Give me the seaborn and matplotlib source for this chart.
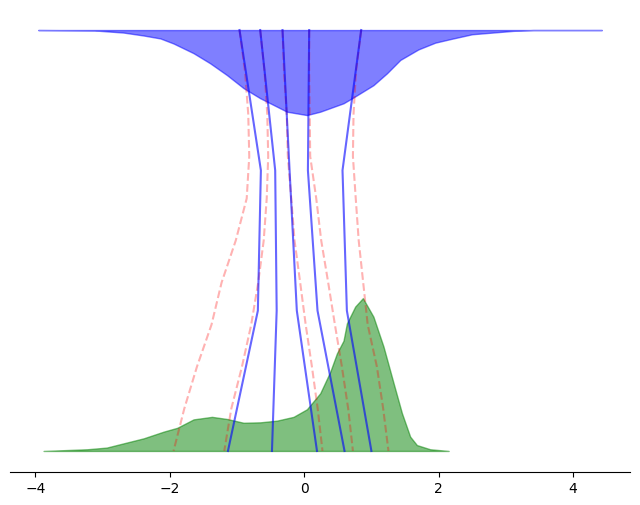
import numpy as np
import pandas as pd
import matplotlib
matplotlib.use('Agg')
import matplotlib.pyplot as plt
import seaborn as sns

# densidad de arriba (se dibuja colgando de y=1)
top_x = [-3.96, -3.12, -2.69, -2.39, -2.14, -1.945, -1.647, -1.40, -1.15, -0.903, -0.655,
         -0.406, -0.257, 0.04, 0.238, 0.585, 0.734, 1.03, 1.23, 1.43, 1.70, 1.95, 2.19,
         2.50, 3.11, 3.41, 4.43]
top_density = [0.0, 0.001, 0.006, 0.013, 0.020, 0.032, 0.055, 0.079, 0.107, 0.138, 0.162,
               0.182, 0.194, 0.202, 0.194, 0.174, 0.160, 0.131, 0.103, 0.071, 0.046, 0.030,
               0.021, 0.010, 0.002, 0.0, 0.0]

# densidad de abajo (objetivo)
bottom_x = [-3.88, -3.23, -2.94, -2.69, -2.39, -2.09, -1.89, -1.647, -1.373, -1.15, -0.903,
            -0.655, -0.406, -0.159, 0.04, 0.238, 0.387, 0.487, 0.585, 0.635, 0.759, 0.873,
            1.03, 1.18, 1.33, 1.454, 1.577, 1.677, 1.875, 2.15]
bottom_density = [0.0, 0.004, 0.008, 0.018, 0.030, 0.046, 0.055, 0.075, 0.081, 0.076, 0.067,
                  0.068, 0.072, 0.081, 0.099, 0.137, 0.188, 0.232, 0.262, 0.303, 0.343, 0.363,
                  0.319, 0.248, 0.161, 0.090, 0.034, 0.014, 0.004, 0.0]

# trayectorias aprendidas (azul), tiempos de arriba a abajo
flow_t = [1.0, 2 / 3, 1 / 3, 0.0]
flow_paths = [
    [-0.963, -0.645, -0.69, -1.135],
    [-0.655, -0.432, -0.41, -0.48],
    [-0.323, -0.218, -0.11, 0.19],
    [0.074, 0.055, 0.198, 0.60],
    [0.848, 0.570, 0.635, 1.00],
]

# trayectorias de referencia (rojo, discontinuas)
ref_t = [1.0, 0.9, 0.8, 0.7, 0.6, 0.5, 0.4, 0.3, 0.2, 0.1, 0.0]
ref_paths = [
    [-0.963, -0.88, -0.833, -0.818, -0.856, -1.019, -1.23, -1.38, -1.597, -1.786, -1.945],
    [-0.655, -0.59, -0.55, -0.536, -0.558, -0.603, -0.685, -0.789, -0.927, -1.086, -1.19],
    [-0.323, -0.30, -0.26, -0.244, -0.193, -0.144, -0.06, 0.022, 0.115, 0.201, 0.272],
    [0.074, 0.074, 0.082, 0.089, 0.179, 0.253, 0.357, 0.457, 0.561, 0.655, 0.725],
    [0.848, 0.77, 0.734, 0.725, 0.767, 0.811, 0.878, 0.945, 1.082, 1.176, 1.254],
]


def to_long(paths, times):
    rows = []
    for i, p in enumerate(paths):
        for x, t in zip(p, times):
            rows.append({'x': x, 'y': t, 'line': i})
    return pd.DataFrame(rows)


flow_df = to_long(flow_paths, flow_t)
ref_df = to_long(ref_paths, ref_t)

fig, ax = plt.subplots(figsize=(6.4, 5.05), dpi=100)
fig.subplots_adjust(left=10 / 640, right=630 / 640, top=1 - 9 / 505, bottom=1 - 472 / 505)

ax.fill_between(top_x, 1 - np.array(top_density), 1, color='blue', alpha=0.5)
ax.fill_between(bottom_x, 0, bottom_density, color='green', alpha=0.5)

sns.lineplot(data=ref_df, x='x', y='y', units='line', estimator=None, sort=False,
             color='red', alpha=0.3, linestyle='--', linewidth=1.5, ax=ax)
sns.lineplot(data=flow_df, x='x', y='y', units='line', estimator=None, sort=False,
             color='blue', alpha=0.6, linewidth=1.5, ax=ax)

ax.set_xlabel('')
ax.set_ylabel('')
ax.set_yticks([])
ax.set_xticks([-4, -2, 0, 2, 4])
sns.despine(ax=ax, left=True)

plt.savefig('out.png', dpi=100)
